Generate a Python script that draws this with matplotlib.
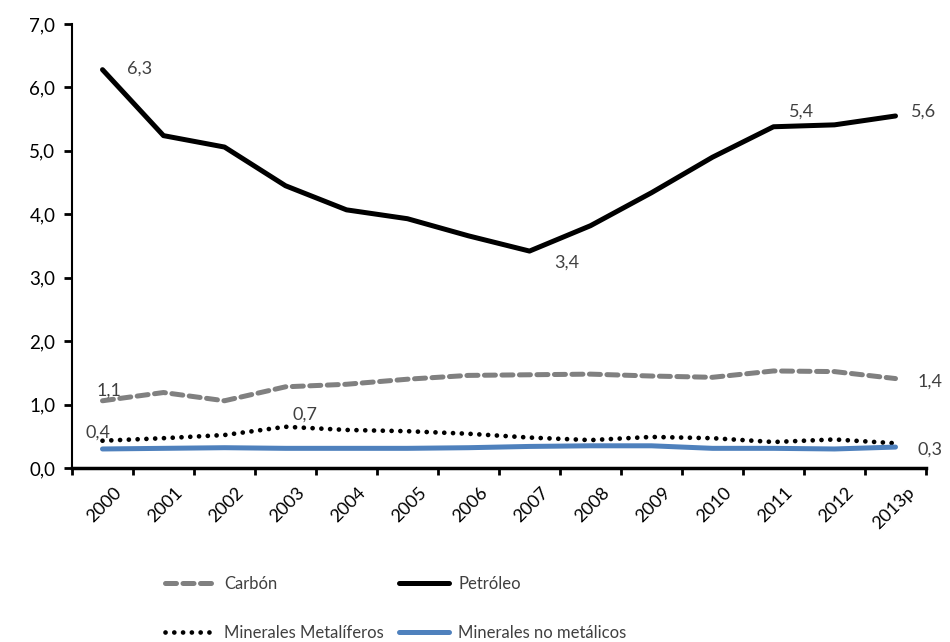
import matplotlib
matplotlib.use('Agg')
import matplotlib.pyplot as plt
import matplotlib.transforms as mtransforms
import numpy as np

plt.rcParams['font.family'] = ['Lato', 'DejaVu Sans']

# Datos
years = ['2000', '2001', '2002', '2003', '2004', '2005', '2006', '2007',
         '2008', '2009', '2010', '2011', '2012', '2013p']
carbon = [1.06, 1.19, 1.06, 1.28, 1.32, 1.40, 1.46, 1.47, 1.48, 1.45, 1.43, 1.53, 1.52, 1.41]
petroleo = [6.28, 5.24, 5.06, 4.45, 4.07, 3.93, 3.66, 3.42, 3.82, 4.34, 4.90, 5.38, 5.41, 5.55]
metaliferos = [0.43, 0.47, 0.52, 0.65, 0.60, 0.58, 0.54, 0.48, 0.44, 0.49, 0.47, 0.41, 0.45, 0.39]
no_metalicos = [0.30, 0.31, 0.32, 0.31, 0.31, 0.31, 0.32, 0.34, 0.35, 0.35, 0.31, 0.31, 0.30, 0.33]

# Etiquetas: (serie, indice, texto, desplazamiento en puntos)
etiquetas = [
    (petroleo, 0, '6,3', (27, 1)),
    (petroleo, 7, '3,4', (27, -8)),
    (petroleo, 11, '5,4', (20, 11)),
    (petroleo, 13, '5,6', (20, 3)),
    (carbon, 0, '1,1', (5, 7)),
    (carbon, 13, '1,4', (25, -2)),
    (metaliferos, 0, '0,4', (-3, 6)),
    (metaliferos, 3, '0,7', (14, 9)),
    (no_metalicos, 13, '0,3', (25, -2)),
]

fig = plt.figure(figsize=(9.5, 6.42), dpi=100)
ax = fig.add_axes([72 / 950, 1 - 468 / 642, 854 / 950, 444 / 642])

x = np.arange(len(years))
lc, = ax.plot(x, carbon, color='#808080', lw=3.6, ls=(0, (2.2, 1.3)), solid_capstyle='round',
              dash_capstyle='round', label='Carbón')
lp, = ax.plot(x, petroleo, color='black', lw=3.6, solid_capstyle='round', label='Petróleo')
lm, = ax.plot(x, metaliferos, color='black', lw=3.4, ls=(0, (0.01, 1.85)), dash_capstyle='round',
              label='Minerales Metalíferos')
ln, = ax.plot(x, no_metalicos, color='#4F81BD', lw=3.6, solid_capstyle='round',
              label='Minerales no metálicos')

for serie, i, txt, off in etiquetas:
    ax.annotate(txt, (x[i], serie[i]), xytext=off, textcoords='offset points',
                ha='center', va='center', fontsize=13, color='#404040')

ax.set_xlim(-0.5, 13.5)
ax.set_ylim(0, 7)
ax.set_yticks(np.arange(0, 8, 1))
ax.set_yticklabels([f'{v:.1f}'.replace('.', ',') for v in range(8)], fontsize=13.5)
ax.set_xticks(x)
ax.set_xticklabels(years, rotation=45, ha='right', rotation_mode='anchor', fontsize=13)
ax.set_xticks(np.arange(-0.5, 14, 1), minor=True)
ax.tick_params(axis='x', which='major', length=0, pad=14)
ax.tick_params(axis='x', which='minor', length=5, width=2)
ax.tick_params(axis='y', length=6, width=2, pad=6)

# desplazar etiquetas del eje x
off = mtransforms.ScaledTranslation(8 / 72, 2 / 72, fig.dpi_scale_trans)
for lab in ax.get_xticklabels():
    lab.set_transform(lab.get_transform() + off)

for s in ['top', 'right']:
    ax.spines[s].set_visible(False)
ax.spines['left'].set_linewidth(1.5)
ax.spines['bottom'].set_linewidth(2.5)

fig.legend(handles=[lc, lm, lp, ln], loc='upper left', bbox_to_anchor=(165 / 950, 1 - 576 / 642),
           ncol=2, frameon=False, fontsize=12, labelcolor='#404040', handlelength=3.0,
           handletextpad=0.55, columnspacing=0.9, labelspacing=1.95, borderpad=0, borderaxespad=0)

fig.savefig('out.png', dpi=100)
